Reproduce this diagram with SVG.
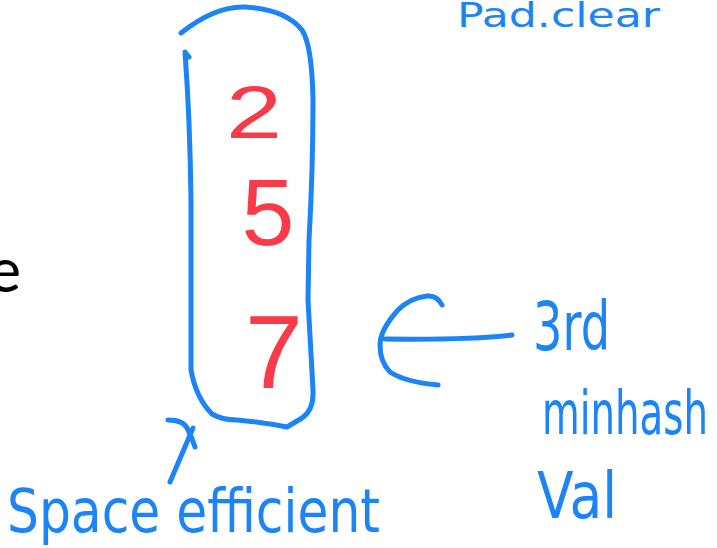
<svg xmlns="http://www.w3.org/2000/svg" width="717" height="548" viewBox="0 0 717 548">
<style>
.ink{fill:none;stroke:#1c84f4;stroke-width:5;stroke-linecap:round;stroke-linejoin:round}
.hand{font-family:"DejaVu Sans","Liberation Sans",sans-serif;fill:#1c84f4}
.num{font-family:"Liberation Sans","DejaVu Sans",sans-serif;fill:#f93a48;text-anchor:middle}
</style>
<rect width="717" height="548" fill="#ffffff"/>
<g id="slide-text">
<text x="21" y="292" font-family="Calibri,'Liberation Sans',sans-serif" font-size="66" text-anchor="end" fill="#000">e</text>
</g>
<g id="top-note">
<text class="hand" x="457" y="27" font-size="34" textLength="203" lengthAdjust="spacingAndGlyphs">Pad.clear</text>
</g>
<g id="array-box">
<path class="ink" d="M181,33 Q215,6 245,7 Q285,9 302,30 Q312,45 313,100 Q313,170 309,240 L308,300 L313,390 Q314,410 302,418 Q292,424 287,427 Q260,422 237,420 Q222,420 212,414 Q196,398 191,370 L191,200 Q190,120 185,52 L189,57"/>
<text class="num" x="254" y="138" font-size="74" textLength="56" lengthAdjust="spacingAndGlyphs">2</text>
<text class="num" x="268" y="245" font-size="95">5</text>
<text class="num" x="274" y="388" font-size="104">7</text>
</g>
<g id="label-minhash">
<text class="hand" x="533" y="350" font-size="68" textLength="77" lengthAdjust="spacingAndGlyphs">3rd</text>
<text class="hand" x="542" y="434" font-size="60" textLength="166" lengthAdjust="spacingAndGlyphs">minhash</text>
<text class="hand" x="537" y="518" font-size="64" textLength="80" lengthAdjust="spacingAndGlyphs">Val</text>
</g>
<g id="label-space">
<text class="hand" x="7" y="532" font-size="60" textLength="373" lengthAdjust="spacingAndGlyphs">Space efficient</text>
</g>
<g id="connectors">
<path class="ink" d="M512,335 Q470,340 385,339"/>
<path class="ink" d="M442,305 Q437,295 427,296 Q410,298 398,310 Q380,330 380,345 Q380,362 390,372 Q405,382 438,385"/>
<path class="ink" d="M170,482 L193,428"/>
<path class="ink" d="M168,420 Q183,420 187,428 Q192,437 195,447"/>
</g>
</svg>
